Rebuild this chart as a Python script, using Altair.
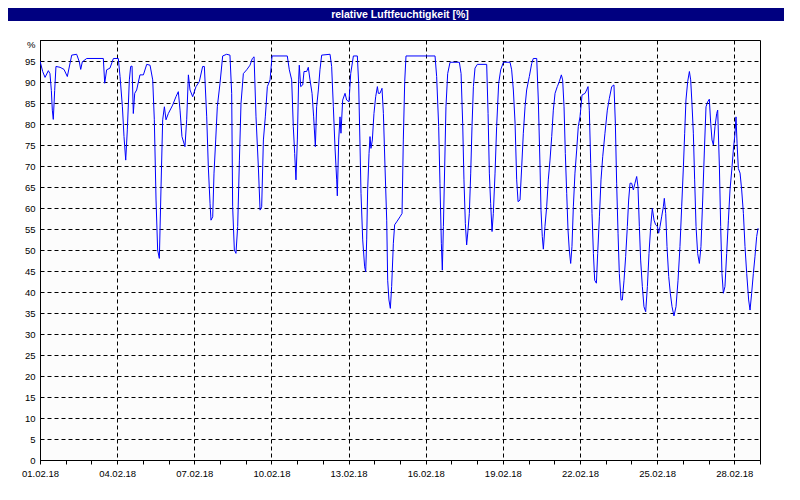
import altair as alt
import pandas as pd

TITLE = "relative Luftfeuchtigkeit [%]"

# hours since 01.02.18 00:00, relative humidity [%]
seg1 = [
    [0, 95], [2.5, 92.5], [4.7, 91.1], [7.8, 92.7], [9.3, 92], [10.6, 88], [11.5, 83.3],
    [12.4, 81.1], [13.7, 88], [14.9, 93.7], [18.7, 93.5], [22.4, 93], [25.5, 91.3],
    [29.6, 96.4], [34.2, 96.6], [36.7, 94.8], [38, 93], [39.5, 94.8], [43.6, 95.6],
    [59.1, 95.6], [60.4, 89.7], [62.2, 92.9], [65.3, 93.3], [68.5, 95.6], [73.1, 95.6],
    [74.7, 91.3], [76.9, 84.1], [78.4, 77], [80, 71.4], [81.5, 78.6], [83.4, 90.5],
    [84.6, 93.7], [85.9, 93.8], [87.1, 82.5], [88.4, 87.3], [90.2, 88.1], [93.3, 91.7],
    [96.5, 91.7], [99.6, 94.2], [102.7, 94], [105.2, 90.5], [106.7, 81], [108.3, 61.9],
    [109.8, 50], [111.4, 48], [112.9, 64.3], [114.5, 81], [116.1, 84.1], [117.6, 81],
    [119.8, 82.5], [123.8, 84.5], [126.9, 86.5], [129.1, 87.7], [130.7, 83.3], [132.5, 77],
    [135.3, 74.6], [136.9, 81], [138.5, 91.7], [140, 88.1], [142.5, 86.5], [145.6, 88.9],
    [148.7, 90.1], [151.8, 93.7], [153.4, 93.7], [155.6, 81.7], [157.1, 69.8], [158.7, 61.1],
    [159.6, 57.1], [161.2, 57.9], [162.4, 68.3], [164, 76.2], [165.5, 84.1], [168, 89.7],
    [170.5, 96.2], [174.2, 96.6], [177.3, 96.4], [178.9, 87.3], [179.8, 60.3], [181.4, 50],
    [182.9, 49.2], [184.5, 55.6], [186.1, 71.4], [187.6, 84.9], [189.8, 92], [192.9, 92.9],
    [196, 94], [198.2, 95.6], [199.8, 96], [201.6, 81.7], [203.8, 69.8], [205.4, 59.5],
    [206.9, 60.3], [208.5, 76.2], [210.3, 81.7], [212.2, 88.9], [214.7, 90.5], [216.6, 96.2],
]
seg2 = [
    [224, 96.2], [230.8, 96.2], [232.7, 92.9], [234.9, 90.5], [236.4, 79.4], [237.7, 73],
    [238.9, 66.7], [240.2, 76.2], [241.4, 90.5], [242, 94], [243.3, 88.9], [245.2, 89.3],
    [246.4, 92.5], [248.9, 92.5], [250.4, 93.5], [252, 90.5], [253.9, 87.3], [255.4, 81.7],
    [257, 74.6], [258.2, 84.1], [259.8, 88.1], [261.3, 92.9], [262.9, 96.4], [270.7, 96.6],
    [272.2, 93.7], [273.8, 84.1], [275.3, 74.6], [276.9, 66.7], [277.5, 62.9], [278.8, 76.2],
    [280, 81.7], [280.9, 77.8], [282.5, 85.7], [284.7, 87.3], [286.2, 85.7], [288.4, 85.3],
    [290, 92], [292.5, 96.2], [296.2, 96.2], [297.4, 89.7], [298.7, 74.6], [299.6, 63.5],
    [301.2, 52.4], [303, 46], [304, 44.8], [304.9, 52.4], [305.8, 64.3], [307.1, 73],
    [308, 77], [308.9, 74.2], [310.2, 76.2], [311.7, 82.5], [313.3, 86.5], [314.9, 88.9],
    [315.8, 87.3], [317.3, 87.3], [319.2, 88.5], [320.5, 82.5], [322, 69.8], [323.6, 57.1],
    [324.5, 42.8], [325.7, 38.1], [327, 36.1], [328.2, 41.3], [329.8, 51.6], [331, 56],
    [332.9, 56.7], [336, 57.9], [337.9, 58.7], [339.1, 76.2], [340.4, 90.1], [341.6, 96.2],
    [368.7, 96.2], [370.2, 91.3], [372.1, 79.4], [373.3, 65.9], [374.6, 51.6], [375.5, 45.2],
    [376.5, 55.6], [377.7, 69.8], [378.9, 84.1], [380.5, 92], [382.7, 94.7], [391.4, 94.7],
    [393, 92], [394.5, 80.2], [395.7, 66.7], [397, 56.3], [398.2, 51.2], [399.5, 54.8],
    [400.7, 58.7], [402, 68.3], [403.2, 79.4], [404.5, 88.9], [406, 93.3], [408.2, 94.2],
    [416.9, 94.2], [418.2, 82.5], [419.4, 68.3], [420.6, 61.1], [421.9, 54.4], [423.1, 58.7],
    [424.7, 68.3], [426.2, 79.4], [428.1, 89.7], [430, 92.9], [432.5, 94.7], [438.7, 94.7],
    [440.2, 92.9], [441.8, 88.1], [443.4, 80.2], [444.9, 66.7], [446.2, 61.5],
]
seg3 = [
    [448, 61.9], [449.6, 69.8], [451.1, 77.8], [452.7, 84.1], [454.2, 88.1], [456.7, 91.3],
    [458.9, 94.4], [460.4, 95.6], [463.6, 95.6], [465.1, 85.7], [466.7, 69.8], [467.6, 59.5],
    [468.8, 53.2], [469.8, 50.2], [471.3, 55.6], [472.9, 60.3], [474.4, 66.7], [476, 71.4],
    [477.6, 77], [479.1, 83.3], [480.7, 87.3], [482.8, 88.9], [484.7, 90.1], [486.6, 91.7],
    [487.8, 90.5], [489.1, 84.1], [490.3, 73], [491.6, 63.5], [492.8, 54.8], [494, 50],
    [495.3, 46.8], [496.5, 50.8], [497.8, 60.3], [499.3, 68.3], [500.9, 73.8], [502.4, 79.4],
    [504, 81.7], [505.9, 86.9], [508.7, 87.3], [510.2, 88.1], [511.5, 88.9], [512.7, 83.3],
    [514, 70.6], [515.2, 58.7], [516.5, 49.2], [517.7, 42.8], [519.3, 42.1], [520.5, 49.2],
    [522.1, 57.9], [523.6, 66.7], [525.2, 72.2], [527.3, 77.8], [529.5, 83.3], [531.4, 86.1],
    [533.6, 88.9], [535.7, 89.3], [537, 80.2], [538.2, 65.9], [539.5, 54], [540.7, 44.4],
    [542.3, 38.1], [543.5, 38.1], [545.1, 42.8], [546.6, 48.4], [548.2, 55.6], [549.4, 61.9],
    [550.7, 65.9], [552.2, 65.9], [553.8, 64.3], [555.3, 65.9], [556.9, 67.5], [558.1, 65.1],
    [559.4, 55.6], [560.6, 47.6], [562.2, 41.3], [563.7, 36.5], [565.3, 35.3], [566.9, 41.3],
    [568.4, 49.2], [570, 55.6], [571.5, 59.9], [573.1, 57.1], [574.6, 56], [576.2, 55.6],
    [577.4, 54], [578.7, 55.6], [580.2, 57.9], [581.8, 60.3], [582.7, 62.3], [584, 58.7],
    [585.2, 50.8], [586.8, 43.7], [588.3, 39.7], [589.9, 36.5], [591.7, 34.3], [593.6, 36.5],
    [595.5, 42.8], [597.3, 50.8], [598.9, 60.3], [600.5, 69.8], [601.7, 77.8], [602.9, 85.7],
    [604.5, 90.1], [606.1, 92.5], [607.3, 90.5], [608.5, 84.9], [609.8, 77.8], [611, 66.7],
    [612.3, 55.6], [613.8, 49.2], [615.4, 46.8], [616.9, 50.8], [618.5, 61.9], [620.1, 73.8],
    [621.6, 84.1], [623.2, 85.3], [624.7, 85.9], [626, 80.2], [627.2, 76.2], [628.5, 75],
    [630, 79.4], [631.6, 82.5], [632.5, 83.3], [634.1, 69.8], [635.3, 55.6], [636.5, 44.4],
    [637.8, 39.7], [639.3, 41.3], [640.9, 49.2], [642.5, 57.1], [644, 64.3], [645.9, 69.8],
    [647.1, 73.8], [648.7, 77.8], [649.6, 81.7], [650.6, 75.4], [651.8, 69.4], [653.4, 68.3],
    [654.9, 64.3], [656.5, 58.7], [658, 50.8], [659.6, 44.4], [661.4, 38.1], [662.7, 35.7],
    [664.2, 39.7], [665.8, 44.4], [667.3, 48.4], [668.9, 53.2], [670.2, 55.2],
]

x_ticks = list(range(0, 673, 24))   # one tick per day, 01.02.18 .. 01.03.18
y_ticks = list(range(0, 101, 5))

df = pd.DataFrame(seg1 + seg2 + seg3, columns=["h", "rh"])
title_df = pd.DataFrame({"t": [TITLE]})

FONT = "Liberation Sans"
W, H = 720, 420

x_label = ("datum.value % 72 == 0 && datum.value < 672 ? "
           "timeFormat(datetime(2018, 1, 1 + datum.value / 24), '%d.%m.%y') : ''")

line = alt.Chart(df).mark_line(color="#0000FF", strokeWidth=1, clip=True).encode(
    x=alt.X("h:Q",
            scale=alt.Scale(domain=[0, 672], nice=False, zero=False),
            axis=alt.Axis(values=x_ticks, labelExpr=x_label, title=None,
                          grid=True, gridColor="black", gridDash=[4, 3], gridWidth=1,
                          gridOpacity={"condition": {"test": "datum.value % 72 == 0", "value": 1}, "value": 0},
                          tickSize=4, tickColor="black", domainColor="black",
                          labelFont=FONT, labelFontSize=9.5, labelColor="black",
                          labelPadding=4, labelOverlap=False, labelFlush=False, labelBound=False)),
    y=alt.Y("rh:Q",
            scale=alt.Scale(domain=[0, 100], nice=False, zero=True),
            axis=alt.Axis(values=y_ticks,
                          labelExpr="datum.value == 100 ? '%' : datum.label",
                          labelOffset={"condition": {"test": "datum.value == 100", "value": 4}, "value": 0},
                          title=None, grid=True, gridColor="black", gridDash=[4, 3], gridWidth=1,
                          tickSize=0, domainColor="black",
                          labelFont=FONT, labelFontSize=9.5, labelColor="black",
                          labelPadding=5, labelOverlap=False, labelFlush=False, labelBound=False)),
)

bar = alt.Chart(title_df).mark_rect(color="#000080").encode(
    x=alt.value(-32), x2=alt.value(W + 32), y=alt.value(-32), y2=alt.value(-19)
)
title_text = alt.Chart(title_df).mark_text(
    color="white", fontWeight="bold", font=FONT, fontSize=10.5, align="center", baseline="middle"
).encode(x=alt.value(W / 2), y=alt.value(-25.5), text="t:N")

chart = alt.layer(line, bar, title_text).properties(
    width=W, height=H,
    autosize=alt.AutoSizeParams(type="none"),
    padding={"left": 32, "top": 32, "right": 24, "bottom": 24},
    background="white",
).configure_view(stroke="black", strokeWidth=1, fill="#FCFCFC")

chart.save("out.html", embed_options={"renderer": "svg", "actions": False})
